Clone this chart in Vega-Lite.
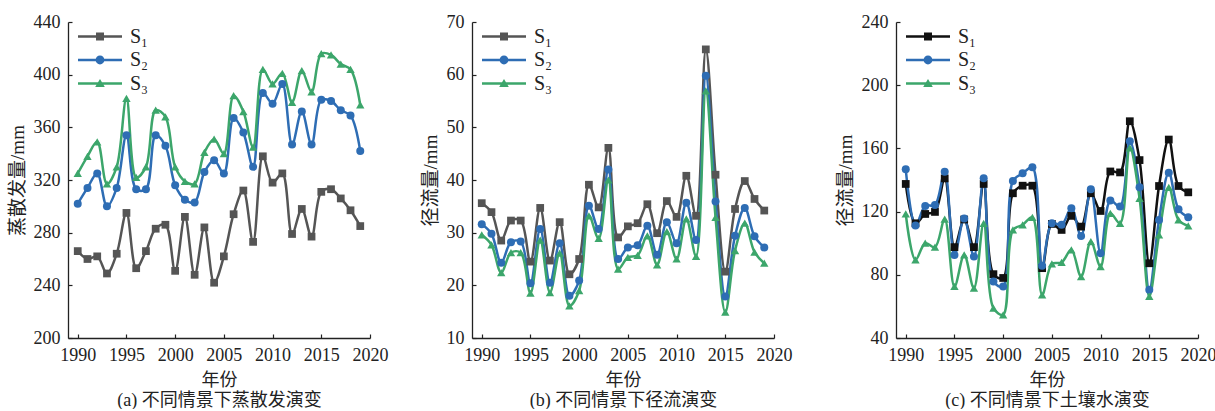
{
  "$schema": "https://vega.github.io/schema/vega-lite/v6.json",
  "padding": {"left": 8, "top": 13, "right": 2, "bottom": 0},
  "spacing": 33,
  "align": "none",
  "datasets": {
    "a": [
      {"year":1990,"S1":266,"S2":302,"S3":325},{"year":1991,"S1":260,"S2":314,"S3":338},{"year":1992,"S1":262,"S2":325,"S3":349},
      {"year":1993,"S1":249,"S2":300,"S3":317},{"year":1994,"S1":264,"S2":314,"S3":330},{"year":1995,"S1":295,"S2":354,"S3":382},
      {"year":1996,"S1":253,"S2":313,"S3":322},{"year":1997,"S1":266,"S2":313,"S3":330},{"year":1998,"S1":283,"S2":354,"S3":373},
      {"year":1999,"S1":286,"S2":346,"S3":368},{"year":2000,"S1":251,"S2":316,"S3":330},{"year":2001,"S1":292,"S2":305,"S3":319},
      {"year":2002,"S1":248,"S2":303,"S3":317},{"year":2003,"S1":284,"S2":326,"S3":341},{"year":2004,"S1":242,"S2":335,"S3":351},
      {"year":2005,"S1":262,"S2":325,"S3":340},{"year":2006,"S1":294,"S2":367,"S3":384},{"year":2007,"S1":312,"S2":356,"S3":372},
      {"year":2008,"S1":273,"S2":330,"S3":345},{"year":2009,"S1":338,"S2":386,"S3":404},{"year":2010,"S1":318,"S2":378,"S3":393},
      {"year":2011,"S1":325,"S2":393,"S3":401},{"year":2012,"S1":279,"S2":347,"S3":379},{"year":2013,"S1":298,"S2":372,"S3":403},
      {"year":2014,"S1":277,"S2":347,"S3":387},{"year":2015,"S1":311,"S2":381,"S3":416},{"year":2016,"S1":313,"S2":380,"S3":415},
      {"year":2017,"S1":306,"S2":373,"S3":408},{"year":2018,"S1":297,"S2":369,"S3":404},{"year":2019,"S1":285,"S2":342,"S3":377}
    ],
    "b": [
      {"year":1990,"S1":35.6,"S2":31.6,"S3":29.6},{"year":1991,"S1":33.9,"S2":29.8,"S3":27.7},{"year":1992,"S1":28.5,"S2":24.3,"S3":22.4},
      {"year":1993,"S1":32.3,"S2":28.2,"S3":26.2},{"year":1994,"S1":32.3,"S2":28.3,"S3":26.2},{"year":1995,"S1":24.5,"S2":20.4,"S3":18.5},
      {"year":1996,"S1":34.7,"S2":30.7,"S3":28.6},{"year":1997,"S1":24.7,"S2":20.5,"S3":18.6},{"year":1998,"S1":32.0,"S2":28.0,"S3":26.1},
      {"year":1999,"S1":22.1,"S2":18.0,"S3":16.1},{"year":2000,"S1":25.0,"S2":20.9,"S3":19.0},{"year":2001,"S1":39.1,"S2":35.1,"S3":33.2},
      {"year":2002,"S1":34.8,"S2":30.7,"S3":28.9},{"year":2003,"S1":46.1,"S2":42.0,"S3":40.0},{"year":2004,"S1":29.1,"S2":25.0,"S3":23.1},
      {"year":2005,"S1":31.2,"S2":27.2,"S3":25.3},{"year":2006,"S1":31.8,"S2":27.6,"S3":25.7},{"year":2007,"S1":35.4,"S2":31.3,"S3":29.4},
      {"year":2008,"S1":29.9,"S2":25.8,"S3":23.9},{"year":2009,"S1":36.0,"S2":32.0,"S3":30.2},{"year":2010,"S1":33.0,"S2":28.0,"S3":25.0},
      {"year":2011,"S1":40.8,"S2":35.7,"S3":32.6},{"year":2012,"S1":33.2,"S2":28.6,"S3":25.5},{"year":2013,"S1":64.8,"S2":59.8,"S3":56.9},
      {"year":2014,"S1":41.0,"S2":35.9,"S3":32.9},{"year":2015,"S1":22.6,"S2":17.9,"S3":14.9},{"year":2016,"S1":34.5,"S2":29.4,"S3":26.6},
      {"year":2017,"S1":39.8,"S2":34.7,"S3":31.8},{"year":2018,"S1":36.4,"S2":29.3,"S3":26.3},{"year":2019,"S1":34.2,"S2":27.2,"S3":24.2}
    ],
    "c": [
      {"year":1990,"S1":137.5,"S2":146.8,"S3":118.5},{"year":1991,"S1":112.6,"S2":111.2,"S3":89.5},{"year":1992,"S1":118.5,"S2":123.6,"S3":100},
      {"year":1993,"S1":119.8,"S2":124.2,"S3":97.5},{"year":1994,"S1":141,"S2":145.3,"S3":115.2},{"year":1995,"S1":97.5,"S2":92.6,"S3":72.6},
      {"year":1996,"S1":115,"S2":115.6,"S3":92.6},{"year":1997,"S1":97.5,"S2":91.6,"S3":71.5},{"year":1998,"S1":137.5,"S2":141.1,"S3":112.6},
      {"year":1999,"S1":80.4,"S2":75.8,"S3":58.9},{"year":2000,"S1":78,"S2":72.6,"S3":54.7},{"year":2001,"S1":131.6,"S2":139.4,"S3":108.4},
      {"year":2002,"S1":136.4,"S2":144.2,"S3":111.6},{"year":2003,"S1":136.4,"S2":148,"S3":116.4},{"year":2004,"S1":84.2,"S2":85.7,"S3":67.3},
      {"year":2005,"S1":112.2,"S2":112.6,"S3":86.9},{"year":2006,"S1":108.4,"S2":111.6,"S3":87.8},{"year":2007,"S1":117.3,"S2":122.1,"S3":95.8},
      {"year":2008,"S1":110.5,"S2":104.6,"S3":78.9},{"year":2009,"S1":131.6,"S2":134.1,"S3":101},{"year":2010,"S1":120.4,"S2":93.7,"S3":85.2},
      {"year":2011,"S1":145.4,"S2":127,"S3":118.9},{"year":2012,"S1":144.8,"S2":123.2,"S3":112.6},{"year":2013,"S1":177.2,"S2":164.6,"S3":160.4},
      {"year":2014,"S1":152.6,"S2":135.4,"S3":128.4},{"year":2015,"S1":87.3,"S2":70.5,"S3":66.3},{"year":2016,"S1":136.2,"S2":114.7,"S3":105.3},
      {"year":2017,"S1":165.6,"S2":144.6,"S3":135.4},{"year":2018,"S1":136.2,"S2":121.5,"S3":114.7},{"year":2019,"S1":132.2,"S2":116.4,"S3":110.9}
    ]
  },
  "config": {
    "font": "Liberation Serif, Noto Sans CJK SC",
    "view": {"stroke": null},
    "axis": {
      "grid": false, "domainColor": "#222", "domainWidth": 1.3, "tickColor": "#222", "tickWidth": 1.2,
      "tickSize": -4, "labelPadding": 12, "labelColor": "#222", "titleColor": "#222",
      "labelFont": "Liberation Serif, Noto Sans CJK SC", "titleFont": "Liberation Serif, Noto Sans CJK SC",
      "labelFontSize": 18, "titleFontSize": 19, "titleFontWeight": "normal", "labelFlush": false, "labelOverlap": false
    },
    "legend": {
      "labelFont": "Liberation Serif, DejaVu Serif", "labelFontSize": 20, "labelColor": "#222",
      "symbolSize": 64, "labelOffset": 20, "rowPadding": 3.5, "padding": 0
    }
  },
  "hconcat": [
    {
      "width": 302, "height": 316,
      "data": {"name": "a"},
      "transform": [{"fold": ["S1", "S2", "S3"], "as": ["s", "v"]}],
      "encoding": {
        "x": {"field": "year", "type": "quantitative", "scale": {"domain": [1989, 2020], "nice": false, "zero": false},
              "axis": {"values": [1990, 1995, 2000, 2005, 2010, 2015, 2020], "format": "d", "title": ["年份", "(a) 不同情景下蒸散发演变"], "titleLineHeight": 20, "titleFontSize": 18, "titlePadding": 7}},
        "y": {"field": "v", "type": "quantitative", "scale": {"domain": [200, 440], "nice": false, "zero": false},
              "axis": {"values": [200, 240, 280, 320, 360, 400, 440], "title": "蒸散发量/mm", "titlePadding": 6}},
        "color": {"field": "s", "type": "nominal", "scale": {"domain": ["S1", "S2", "S3"], "range": ["#555555", "#2e6db4", "#3ca66b"]},
                  "legend": {"title": null, "orient": "none", "legendX": 22, "legendY": 4.5,
                             "labelExpr": "datum.label == 'S1' ? 'S₁' : datum.label == 'S2' ? 'S₂' : 'S₃'",
                             "encode": {"symbols": {"update": {
                               "shape": {"signal": "datum.value == 'S1' ? 'M-5.5,-0.3H5.5V0.3H-5.5Z M-1,-1H1V1H-1Z' : datum.value == 'S2' ? 'M-5.5,-0.3H5.5V0.3H-5.5Z M1.1,0A1.1,1.1,0,1,1,-1.1,0A1.1,1.1,0,1,1,1.1,0Z' : 'M-5.5,-0.3H5.5V0.3H-5.5Z M0,-1.1L1.2,0.9H-1.2Z'"},
                               "fill": {"signal": "datum.value == 'S1' ? '#555555' : datum.value == 'S2' ? '#2e6db4' : '#3ca66b'"},
                               "fillOpacity": {"value": 1}, "strokeWidth": {"value": 0}, "size": {"value": 64}}}}}}
      },
      "layer": [
        {"mark": {"type": "line", "interpolate": "catmull-rom", "strokeWidth": 2.5}},
        {"transform": [{"filter": "datum.s == 'S1'"}], "mark": {"type": "point", "shape": "square", "filled": true, "opacity": 1, "size": 60}},
        {"transform": [{"filter": "datum.s == 'S2'"}], "mark": {"type": "point", "shape": "circle", "filled": true, "opacity": 1, "size": 64}},
        {"transform": [{"filter": "datum.s == 'S3'"}], "mark": {"type": "point", "shape": "triangle-up", "filled": true, "opacity": 1, "size": 70}}
      ]
    },
    {
      "spacing": 44,
      "align": "none",
      "hconcat": [
        {
          "width": 302, "height": 316,
          "data": {"name": "b"},
          "transform": [{"fold": ["S1", "S2", "S3"], "as": ["s", "v"]}],
          "encoding": {
            "x": {"field": "year", "type": "quantitative", "scale": {"domain": [1989, 2020], "nice": false, "zero": false},
                  "axis": {"values": [1990, 1995, 2000, 2005, 2010, 2015, 2020], "format": "d", "title": ["年份", "(b) 不同情景下径流演变"], "titleLineHeight": 20, "titleFontSize": 18, "titlePadding": 7}},
            "y": {"field": "v", "type": "quantitative", "scale": {"domain": [10, 70], "nice": false, "zero": false},
                  "axis": {"values": [10, 20, 30, 40, 50, 60, 70], "title": "径流量/mm", "titlePadding": 6}},
            "color": {"field": "s", "type": "nominal", "scale": {"domain": ["S1", "S2", "S3"], "range": ["#555555", "#2e6db4", "#3ca66b"]},
                      "legend": {"title": null, "orient": "none", "legendX": 22, "legendY": 4.5,
                                 "labelExpr": "datum.label == 'S1' ? 'S₁' : datum.label == 'S2' ? 'S₂' : 'S₃'",
                                 "encode": {"symbols": {"update": {
                                   "shape": {"signal": "datum.value == 'S1' ? 'M-5.5,-0.3H5.5V0.3H-5.5Z M-1,-1H1V1H-1Z' : datum.value == 'S2' ? 'M-5.5,-0.3H5.5V0.3H-5.5Z M1.1,0A1.1,1.1,0,1,1,-1.1,0A1.1,1.1,0,1,1,1.1,0Z' : 'M-5.5,-0.3H5.5V0.3H-5.5Z M0,-1.1L1.2,0.9H-1.2Z'"},
                                   "fill": {"signal": "datum.value == 'S1' ? '#555555' : datum.value == 'S2' ? '#2e6db4' : '#3ca66b'"},
                                   "fillOpacity": {"value": 1}, "strokeWidth": {"value": 0}, "size": {"value": 64}}}}}}
          },
          "layer": [
            {"mark": {"type": "line", "interpolate": "catmull-rom", "strokeWidth": 2.5}},
            {"transform": [{"filter": "datum.s == 'S1'"}], "mark": {"type": "point", "shape": "square", "filled": true, "opacity": 1, "size": 60}},
            {"transform": [{"filter": "datum.s == 'S2'"}], "mark": {"type": "point", "shape": "circle", "filled": true, "opacity": 1, "size": 64}},
            {"transform": [{"filter": "datum.s == 'S3'"}], "mark": {"type": "point", "shape": "triangle-up", "filled": true, "opacity": 1, "size": 70}}
          ]
        },
        {
          "width": 302, "height": 316,
          "data": {"name": "c"},
          "transform": [{"fold": ["S1", "S2", "S3"], "as": ["s", "v"]}],
          "encoding": {
            "x": {"field": "year", "type": "quantitative", "scale": {"domain": [1989, 2020], "nice": false, "zero": false},
                  "axis": {"values": [1990, 1995, 2000, 2005, 2010, 2015, 2020], "format": "d", "title": ["年份", "(c) 不同情景下土壤水演变"], "titleLineHeight": 20, "titleFontSize": 18, "titlePadding": 7}},
            "y": {"field": "v", "type": "quantitative", "scale": {"domain": [40, 240], "nice": false, "zero": false},
                  "axis": {"values": [40, 80, 120, 160, 200, 240], "title": "径流量/mm", "titlePadding": 6}},
            "color": {"field": "s", "type": "nominal", "scale": {"domain": ["S1", "S2", "S3"], "range": ["#111111", "#2e6db4", "#3ca66b"]},
                      "legend": {"title": null, "orient": "none", "legendX": 22, "legendY": 4.5,
                                 "labelExpr": "datum.label == 'S1' ? 'S₁' : datum.label == 'S2' ? 'S₂' : 'S₃'",
                                 "encode": {"symbols": {"update": {
                                   "shape": {"signal": "datum.value == 'S1' ? 'M-5.5,-0.3H5.5V0.3H-5.5Z M-1,-1H1V1H-1Z' : datum.value == 'S2' ? 'M-5.5,-0.3H5.5V0.3H-5.5Z M1.1,0A1.1,1.1,0,1,1,-1.1,0A1.1,1.1,0,1,1,1.1,0Z' : 'M-5.5,-0.3H5.5V0.3H-5.5Z M0,-1.1L1.2,0.9H-1.2Z'"},
                                   "fill": {"signal": "datum.value == 'S1' ? '#555555' : datum.value == 'S2' ? '#2e6db4' : '#3ca66b'"},
                                   "fillOpacity": {"value": 1}, "strokeWidth": {"value": 0}, "size": {"value": 64}}}}}}
          },
          "layer": [
            {"mark": {"type": "line", "interpolate": "catmull-rom", "strokeWidth": 2.5}},
            {"transform": [{"filter": "datum.s == 'S1'"}], "mark": {"type": "point", "shape": "square", "filled": true, "opacity": 1, "size": 60}},
            {"transform": [{"filter": "datum.s == 'S2'"}], "mark": {"type": "point", "shape": "circle", "filled": true, "opacity": 1, "size": 64}},
            {"transform": [{"filter": "datum.s == 'S3'"}], "mark": {"type": "point", "shape": "triangle-up", "filled": true, "opacity": 1, "size": 70}}
          ]
        }
      ],
      "resolve": {"scale": {"color": "independent"}, "legend": {"color": "independent"}}
    }
  ],
  "resolve": {"scale": {"color": "independent"}, "legend": {"color": "independent"}}
}
